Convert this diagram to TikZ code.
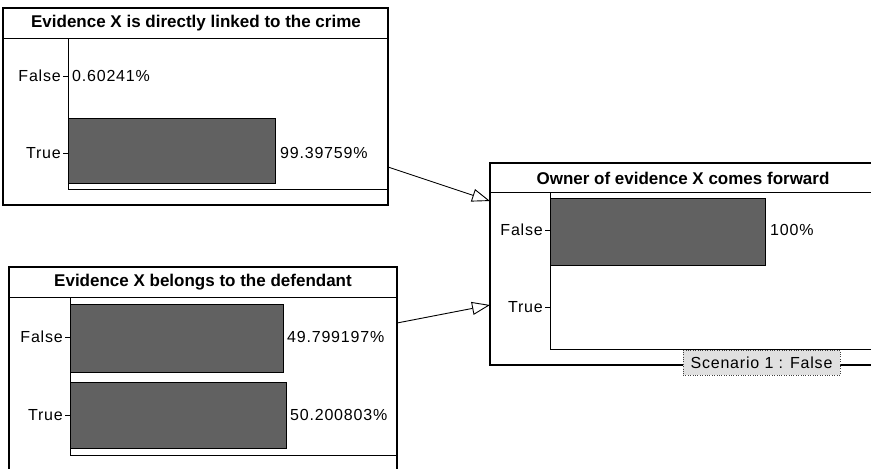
\documentclass[tikz,border=0pt]{standalone}
\usepackage{fontspec}
\setmainfont{Liberation Sans}
\newfontfamily\wideface[LetterSpace=5]{Liberation Sans}
\usetikzlibrary{arrows.meta}

\begin{document}
\begin{tikzpicture}[x=1pt,y=-1pt,
    netbox/.style={draw,line width=1.2pt,inner sep=0pt,outer sep=0pt,anchor=north west},
    bar/.style={draw,line width=0.8pt,fill=black!62},
    title/.style={font=\fontsize{17}{17}\selectfont\bfseries,inner sep=0pt},
    state/.style={font=\wideface\fontsize{16}{16}\selectfont,anchor=east,inner sep=0pt},
    value/.style={font=\wideface\fontsize{16}{16}\selectfont,anchor=west,inner sep=0pt},
    scenario/.style={draw=black!75,dotted,fill=black!12,minimum width=157pt,minimum height=25pt,
        inner sep=0pt,font=\wideface\fontsize{16}{16}\selectfont},
    link/.style={-{Triangle[open,length=18pt,width=13pt,fill=white]},line width=0.9pt}]

\useasboundingbox (0,0) rectangle (871,469);
\clip (0,0) rectangle (871,469);

% Evidence X is directly linked to the crime
\node[netbox,minimum width=385pt,minimum height=197pt] (crime) at (3,8) {};
\draw[line width=1pt] (3,38) -- (388,38);
\node[title] (crimetitle) at (196,23) {Evidence X is directly linked to the crime};
\draw[line width=1pt] (68,38) -- (68,189) -- (388,189);
\draw (63,76) -- (68,76);
\draw (63,153) -- (68,153);
\node[state] (crimefalse) at (61,76) {False};
\node[state] (crimetrue) at (61,153) {True};
\draw[bar] (68,118) rectangle (275,183);
\node[value] (crimefalsev) at (72,76) {0.60241\%};
\node[value] (crimetruev) at (280,153) {99.39759\%};

% Evidence X belongs to the defendant
\node[netbox,minimum width=388pt,minimum height=213pt] (owner) at (9,267) {};
\draw[line width=1pt] (9,297) -- (397,297);
\node[title] (ownertitle) at (203,282) {Evidence X belongs to the defendant};
\draw[line width=1pt] (70,297) -- (70,455) -- (397,455);
\draw (65,337) -- (70,337);
\draw (65,415) -- (70,415);
\node[state] (ownerfalse) at (63,337) {False};
\node[state] (ownertrue) at (63,415) {True};
\draw[bar] (70,304) rectangle (283,372);
\draw[bar] (70,382) rectangle (286,448);
\node[value] (ownerfalsev) at (287,337) {49.799197\%};
\node[value] (ownertruev) at (290,415) {50.200803\%};

% Owner of evidence X comes forward
\node[netbox,minimum width=400pt,minimum height=202pt] (forward) at (490,163) {};
\draw[line width=1pt] (490,192) -- (890,192);
\node[title] (forwardtitle) at (683,178) {Owner of evidence X comes forward};
\draw[line width=1pt] (550,192) -- (550,349) -- (890,349);
\draw (545,230) -- (550,230);
\draw (545,307) -- (550,307);
\node[state] (forwardfalse) at (543,230) {False};
\node[state] (forwardtrue) at (543,307) {True};
\draw[bar] (550,198) rectangle (765,265);
\node[value] (forwardfalsev) at (770,230) {100\%};
\node[scenario] (scen) at (761.5,362.5) {Scenario 1 : False};

\draw[link] ([yshift=-60.5pt]crime.east) -- ([yshift=63pt]forward.west);
\draw[link] ([yshift=50.5pt]owner.east) -- ([yshift=-41pt]forward.west);

\end{tikzpicture}
\end{document}
